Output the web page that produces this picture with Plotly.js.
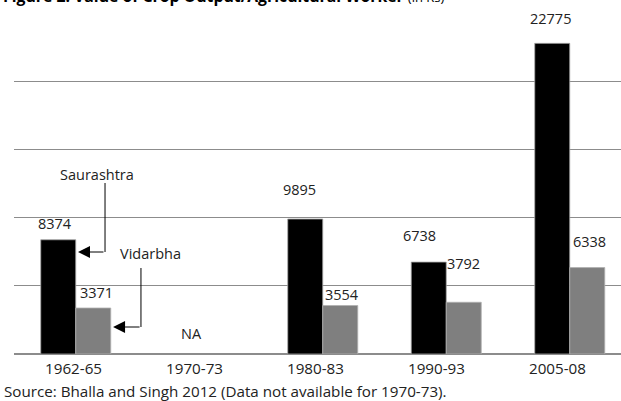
<!DOCTYPE html>
<html>
<head>
<meta charset="utf-8">
<script src="https://cdn.plot.ly/plotly-3.0.1.min.js"></script>
<style>html,body{margin:0;padding:0;background:#fff;}#chart{width:621px;height:401px;}</style>
</head>
<body>
<div id="chart"></div>
<script>
// ---- data ----
const categories = ["1962-65", "1970-73", "1980-83", "1990-93", "2005-08"];
const saurashtra = [8374, null, 9895, 6738, 22775];
const vidarbha   = [3371, null, 3554, 3792, 6338];
const seriesNames = ["Saurashtra", "Vidarbha"];
const naLabel = "NA";
const titleText = "Figure 2: Value of Crop Output/Agricultural Worker";
const unitText = "(in Rs)";
const sourceText = "Source: Bhalla and Singh 2012 (Data not available for 1970-73).";

// ---- style ----
const FONT = "'Open Sans', 'Noto Sans', sans-serif";
const FS = 14.5;
const GRID = "#8c8c8c";
const halfBar = 0.1417; // half of bar width in category units
// per-label pixel offsets [dx, dy] (style only)
const sLabelShift = [[-3, 5], null, [-6, 18], [-9, 15], [-2, 13]];
const vLabelShift = [[3, 4], null, [2, 0], [0, 27], [2, 15]];

const traces = [
  {type: "bar", name: seriesNames[0], x: categories, y: saurashtra,
   marker: {color: "#000000", line: {color: "#a6a6a6", width: 0.8}}, hoverinfo: "skip"},
  {type: "bar", name: seriesNames[1], x: categories, y: vidarbha,
   marker: {color: "#7f7f7f", line: {color: "#b0b0b0", width: 0.8}}, hoverinfo: "skip"},
  // invisible carrier so the label axis is drawn
  {type: "scatter", mode: "none", x: categories.map((c, i) => i), y: categories.map(() => 0),
   xaxis: "x2", yaxis: "y", hoverinfo: "skip", showlegend: false}
];

const annotations = [];
function addLabels(vals, shifts, side) {
  vals.forEach((v, i) => {
    if (v == null) return;
    annotations.push({
      x: i + side * halfBar, y: v, xref: "x", yref: "y",
      text: String(v), showarrow: false, yanchor: "bottom",
      xshift: shifts[i][0], yshift: shifts[i][1],
      font: {family: FONT, size: FS, color: "#222"}
    });
  });
}
addLabels(saurashtra, sLabelShift, -1);
addLabels(vidarbha, vLabelShift, 1);

// NA label for missing period
categories.forEach((c, i) => {
  if (saurashtra[i] == null && vidarbha[i] == null) {
    annotations.push({x: i, y: 0, xref: "x", yref: "y", text: naLabel, showarrow: false,
      yanchor: "middle", xshift: -8, yshift: 21, font: {family: FONT, size: FS, color: "#222"}});
  }
});

// series call-outs
annotations.push({x: 0.172, y: 13196, xref: "x", yref: "y", text: seriesNames[0], showarrow: false,
  font: {family: FONT, size: FS, color: "#222"}});
annotations.push({x: 0.609, y: 7404, xref: "x", yref: "y", text: seriesNames[1], showarrow: false,
  font: {family: FONT, size: FS, color: "#222"}});
annotations.push({x: 0.018, y: 7478, xref: "x", yref: "y", text: "", showarrow: true,
  ax: 27, ay: 0, arrowhead: 2, arrowsize: 2.4, arrowwidth: 1, arrowcolor: "#000", standoff: 0});
annotations.push({x: 0.302, y: 1979, xref: "x", yref: "y", text: "", showarrow: true,
  ax: 28, ay: 0, arrowhead: 2, arrowsize: 2.4, arrowwidth: 1, arrowcolor: "#000", standoff: 0});

// title (clipped at top edge) and source
annotations.push({xref: "paper", yref: "paper", x: 0, y: 1, xanchor: "left", yanchor: "bottom",
  xshift: -13, yshift: 4, showarrow: false,
  text: "<b>" + titleText + "</b> <span style='font-size:13px;color:#000'>" + unitText + "</span>",
  font: {family: FONT, size: 15.8, color: "#000"}});
annotations.push({xref: "paper", yref: "paper", x: 0, y: 0, xanchor: "left", yanchor: "middle",
  xshift: -12, yshift: -37, showarrow: false, text: sourceText,
  font: {family: FONT, size: 15.2, color: "#222"}});

const shapes = [
  {type: "line", xref: "x", yref: "y", x0: 0.237, x1: 0.237, y0: 7478, y1: 12536, line: {color: "#000", width: 1}},
  {type: "line", xref: "x", yref: "y", x0: 0.528, x1: 0.528, y0: 1979, y1: 6305, line: {color: "#000", width: 1}}
];

const layout = {
  width: 621, height: 401,
  margin: {l: 14, r: 0, t: 13, b: 47, pad: 0},
  paper_bgcolor: "#fff", plot_bgcolor: "#fff",
  showlegend: false,
  barmode: "group", bargap: 0.433, bargroupgap: 0,
  font: {family: FONT, size: FS, color: "#222"},
  xaxis: {type: "category", range: [-0.5, 4.415], showticklabels: false, ticks: "",
          showgrid: false, zeroline: false, showline: false, fixedrange: true},
  xaxis2: {type: "linear", overlaying: "x", anchor: "y", side: "bottom",
           range: [-0.492, 4.525], tickmode: "array",
           tickvals: categories.map((c, i) => i), ticktext: categories,
           ticks: "", ticklabelstandoff: 4, showgrid: false, zeroline: false, showline: false,
           tickfont: {family: FONT, size: 15.2, color: "#222"}},
  yaxis: {range: [0, 25000], dtick: 5000, tick0: 0, showticklabels: false, ticks: "",
          showgrid: true, gridcolor: GRID, gridwidth: 1.3,
          zeroline: true, zerolinecolor: GRID, zerolinewidth: 1.5, showline: false, fixedrange: true},
  annotations: annotations,
  shapes: shapes
};

Plotly.newPlot("chart", traces, layout, {displayModeBar: false, staticPlot: true});
</script>
</body>
</html>
